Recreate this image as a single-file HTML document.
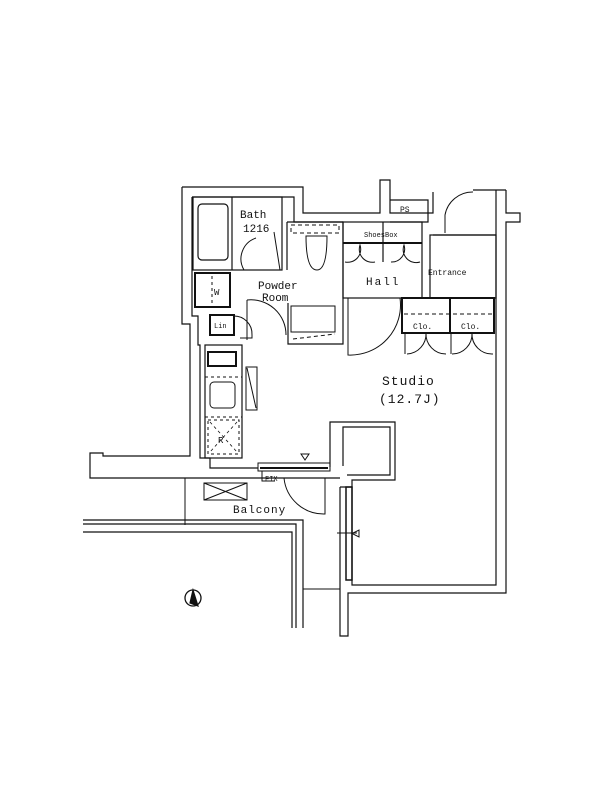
<!DOCTYPE html>
<html><head><meta charset="utf-8"><style>
html,body{margin:0;padding:0;background:#fff}
svg{display:block}
text{font-family:"Liberation Mono",monospace;fill:#111}
</style></head><body>
<svg width="600" height="800" viewBox="0 0 600 800" xmlns="http://www.w3.org/2000/svg">
<g fill="none" stroke="#111" stroke-width="1.2">
<path d="M182,187 H303 V213 H380 V180 H390 V213 H433 V192 M506,190 V213 H520 V222 H506 V593 H348 V636 H340 V487 M182,187 V324 H190 V456 H103 V453 H90 V478 H340"/>
<path d="M192,197 H294 V222 H343 M192,197 V316 H198 V345 H200 V458 H210 V468 H258 M496,190 V585 H352 V487 M433,235 H496"/>
<path d="M390,200 H428 V222 H390"/>
<path d="M445,233 V215 A28,28 0 0 1 473,192" stroke-width="1"/>
<path d="M473,190 H506" />
<rect x="193" y="197" width="89" height="73"/>
<rect x="198" y="204" width="30" height="56" rx="4"/>
<line x1="232" y1="197" x2="232" y2="270"/>
<path d="M244,270 A22,22 0 0 1 256,238 M274,232 L280,270" stroke-width="1"/>
<path d="M287,222 V270 M287,222 H343 V344 H288 V303"/>
<rect x="291" y="225" width="48" height="8" stroke-dasharray="4,3" stroke-width="1"/>
<path d="M306,236 Q306,270 317,270 Q327,270 327,236 Z" stroke-width="1"/>
<rect x="291" y="306" width="44" height="26" stroke-width="1"/>
<path d="M293,339 L335,334" stroke-dasharray="4,3" stroke-width="1"/>
<path d="M247,300 A35,35 0 0 1 286,335 M247,300 V340" stroke-width="1"/>
<rect x="195" y="273" width="35" height="34" stroke-width="2"/>
<path d="M212,276 V305 M230,276 V305" stroke-dasharray="3,3" stroke-width="1"/>
<rect x="210" y="315" width="24" height="20" stroke-width="2"/>
<path d="M233,316 A18,18 0 0 1 252,335 V338 H240" stroke-width="1"/>
<rect x="205" y="345" width="37" height="113"/>
<rect x="208" y="352" width="28" height="14" stroke-width="2"/>
<rect x="210" y="382" width="25" height="26" rx="4" stroke-width="1"/>
<path d="M205,377 H242 M205,417 H242" stroke-dasharray="3,3" stroke-width="1"/>
<rect x="208" y="420" width="31" height="34" stroke-dasharray="3,3" stroke-width="1"/>
<path d="M210,422 L237,452 M237,422 L210,452" stroke-dasharray="3,3" stroke-width="0.8"/>
<rect x="246" y="367" width="11" height="43" stroke-width="1"/>
<line x1="247" y1="368" x2="256" y2="408" stroke-width="1"/>
<rect x="343" y="222" width="79" height="76"/>
<line x1="343" y1="243" x2="422" y2="243" stroke-width="2"/>
<line x1="383" y1="222" x2="383" y2="262"/>
<path d="M345,262 A13,13 0 0 0 360,245 A13,13 0 0 0 375,262 M391,262 A13,13 0 0 0 404,245 A13,13 0 0 0 420,262" stroke-width="1"/>
<rect x="430" y="235" width="66" height="63"/>
<path d="M348,298 V355 A50,50 0 0 0 400,298" stroke-width="1"/>
<rect x="402" y="298" width="92" height="35" stroke-width="2"/>
<line x1="450" y1="298" x2="450" y2="333" stroke-width="2"/>
<line x1="404" y1="314" x2="494" y2="314" stroke-dasharray="4,3" stroke-width="1"/>
<path d="M405,354 V333 M426,333 A20,20 0 0 1 407,354 M426,333 A20,20 0 0 0 446,354 M451,354 V333 M472,333 A20,20 0 0 1 452,354 M472,333 A20,20 0 0 0 493,354" stroke-width="1"/>
<path d="M330,467 V422 H395 V480 H352 V487 H340 M343,466 V427 H390 V475 H347"/>
<rect x="258" y="463" width="72" height="8" stroke-width="1"/>
<line x1="260" y1="468" x2="328" y2="468" stroke-width="2"/>
<path d="M262,471 V481 H275 M283,478 H325 V514 A40,40 0 0 1 284,478" stroke-width="1"/>
<path d="M301,454 L305,460 L309,454 Z" stroke-width="1"/>
<rect x="346" y="487" width="6" height="93" stroke-width="1.5"/>
<path d="M337,533 H357 M359,530 L359,537 L352,533.5 Z" stroke-width="1"/>
<line x1="185" y1="478" x2="185" y2="525" stroke-width="1"/>
<path d="M83,520 H303 V628 M83,524 H296 V628 M83,532 H292 V628"/>
<line x1="303" y1="589" x2="340" y2="589" stroke-width="1"/>
<rect x="204" y="483" width="43" height="17" stroke-width="1"/>
<path d="M204,483 L247,500 M247,483 L204,500" stroke-width="1"/>
<circle cx="193" cy="598" r="8" stroke-width="1.3"/>
<path d="M193,590 L198,606 L190,603 Z" fill="#111"/>
</g>
<text x="240" y="218" font-size="11">Bath</text>
<text x="243" y="232" font-size="11">1216</text>
<text x="258" y="289" font-size="11">Powder</text>
<text x="262" y="301" font-size="11">Room</text>
<text x="366" y="285" font-size="11" letter-spacing="2">Hall</text>
<text x="428" y="275" font-size="8" font-family="Liberation Sans">Entrance</text>
<text x="364" y="237" font-size="7" font-family="Liberation Sans">ShoesBox</text>
<text x="400" y="212" font-size="8" font-family="Liberation Sans">PS</text>
<text x="413" y="329" font-size="8" font-family="Liberation Sans">Clo.</text>
<text x="461" y="329" font-size="8" font-family="Liberation Sans">Clo.</text>
<text x="214" y="328" font-size="7" font-family="Liberation Sans">Lin</text>
<text x="214" y="295" font-size="9" font-family="Liberation Sans">W</text>
<text x="218" y="443" font-size="9" font-family="Liberation Sans">R</text>
<text x="265" y="481" font-size="7" font-family="Liberation Sans">FIX</text>
<text x="382" y="385" font-size="13" letter-spacing="1">Studio</text>
<text x="379" y="403" font-size="13" letter-spacing="1">(12.7J)</text>
<text x="233" y="513" font-size="11" letter-spacing="1">Balcony</text>
</svg>
</body></html>
